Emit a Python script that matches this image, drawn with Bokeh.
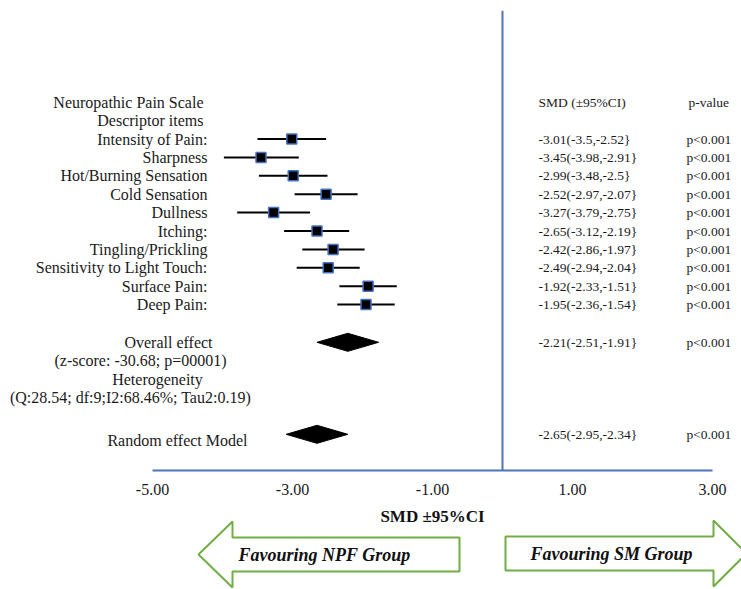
from bokeh.plotting import figure
from bokeh.layouts import column
from bokeh.models import Range1d, Span, FixedTicker, PrintfTickFormatter
from bokeh.core.properties import value
from bokeh.embed import file_html
from bokeh.resources import INLINE

# ---- data ----
items = ["Intensity of Pain:", "Sharpness", "Hot/Burning Sensation", "Cold Sensation",
         "Dullness", "Itching:", "Tingling/Prickling", "Sensitivity to Light Touch:",
         "Surface Pain:", "Deep Pain:"]
smd = [-3.01, -3.45, -2.99, -2.52, -3.27, -2.65, -2.42, -2.49, -1.92, -1.95]
lower = [-3.5, -3.98, -3.48, -2.97, -3.79, -3.12, -2.86, -2.94, -2.33, -2.36]
upper = [-2.52, -2.91, -2.5, -2.07, -2.75, -2.19, -1.97, -2.04, -1.51, -1.54]
p_values = ["p<0.001"] * 10

overall_smd, overall_lo, overall_hi, overall_p = -2.21, -2.51, -1.91, "p<0.001"
random_smd, random_lo, random_hi, random_p = -2.65, -2.95, -2.34, "p<0.001"

tick_values = [-5, -3, -1, 1, 3]
x_title = "SMD \u00b195%CI"

# ---- layout / style ----
W, H = 741, 589
FONT = "Liberation Serif"
FS_LEFT = "16px"
FS_RIGHT = "13.5px"
TXT = "#1a1a1a"
BLUE = "#4f75b8"
GREEN = "#70ad47"
PX_PER_UNIT = 70.0
ZERO_X = 502.0
ROW0_Y, ROW_H = 138.5, 18.4
TOP, BOTTOM = 10, 470
SPLIT = 505  # canvas row where the lower (arrow) panel starts


def row_of(sy):
    return (sy - ROW0_Y) / ROW_H


def x_of(sx):
    return (sx - ZERO_X) / PX_PER_UNIT


xr = Range1d(x_of(0), x_of(W))

p = figure(width=W, height=SPLIT, output_backend="svg", toolbar_location=None,
           x_range=xr, y_range=Range1d(row_of(BOTTOM), row_of(TOP)),
           y_axis_location=None, x_axis_location="below",
           min_border_left=0, min_border_right=0, min_border_top=TOP,
           min_border_bottom=SPLIT - BOTTOM)
p.outline_line_color = None
p.xgrid.visible = False
p.ygrid.visible = False
p.background_fill_color = "white"
p.border_fill_color = "white"

ax = p.xaxis[0]
ax.ticker = FixedTicker(ticks=tick_values)
ax.formatter = PrintfTickFormatter(format="%.2f")
ax.bounds = (tick_values[0], tick_values[-1])
ax.axis_line_color = BLUE
ax.axis_line_width = 2
ax.major_tick_line_color = None
ax.minor_tick_line_color = None
ax.major_tick_out = 0
ax.major_tick_in = 0
ax.major_label_standoff = 13
ax.major_label_text_font = FONT
ax.major_label_text_font_size = "16px"
ax.major_label_text_color = TXT

p.add_layout(Span(location=0, dimension="height", line_color=BLUE, line_width=2))

rows = list(range(len(items)))

# CI lines and point estimates
p.segment(x0=lower, y0=rows, x1=upper, y1=rows, line_color="black", line_width=2)
p.scatter(x=smd, y=rows, marker="square", size=10, fill_color="black",
          line_color="#4472c4", line_width=1.5)

# Diamonds
DIAMOND_HALF_W = 0.44
DIAMOND_HALF_H = 0.49
for est, r in [(overall_smd, 11.05), (random_smd, 16.05)]:
    p.patch(x=[est - DIAMOND_HALF_W, est, est + DIAMOND_HALF_W, est],
            y=[r, r - DIAMOND_HALF_H, r, r + DIAMOND_HALF_H],
            fill_color="black", line_color="black")


def txt(fig, x, y, t, align="left", style="normal", size=FS_LEFT, color=TXT):
    fig.text(x=x, y=y, text=t, text_align=align, text_baseline="middle",
             text_font=value(FONT), text_font_size=size, text_color=color,
             text_font_style=style)


# Left labels
LABEL_X = x_of(207)
txt(p, [x_of(203)], [-2], ["Neuropathic Pain Scale"], align="right")
txt(p, [LABEL_X], [-1], ["Descriptor  items"], align="right")
txt(p, [LABEL_X] * len(items), rows, items, align="right")

txt(p, [x_of(168)], [11.05], ["Overall effect"], align="center")
txt(p, [x_of(140)], [12.05], ["(z-score: -30.68; p=00001)"], align="center")
txt(p, [x_of(157)], [13.05], ["Heterogeneity"], align="center")
txt(p, [x_of(130)], [14.05], ["(Q:28.54; df:9;I2:68.46%; Tau2:0.19)"], align="center")
txt(p, [x_of(177)], [16.4], ["Random effect Model"], align="center")

# Right columns
SMD_X = x_of(538)
P_X = x_of(686)
ci_text = [f"{s}({lo},{hi}}}" for s, lo, hi in zip(smd, lower, upper)]
txt(p, [SMD_X], [-2], ["SMD (\u00b195%CI)"], size=FS_RIGHT)
txt(p, [x_of(688)], [-2], ["p-value"], size=FS_RIGHT)
txt(p, [SMD_X] * len(items), rows, ci_text, size=FS_RIGHT)
txt(p, [P_X] * len(items), rows, p_values, size=FS_RIGHT)
txt(p, [SMD_X], [11.05], [f"{overall_smd}({overall_lo},{overall_hi}}}"], size=FS_RIGHT)
txt(p, [P_X], [11.05], [overall_p], size=FS_RIGHT)
txt(p, [SMD_X], [16.05], [f"{random_smd}({random_lo},{random_hi}}}"], size=FS_RIGHT)
txt(p, [P_X], [16.05], [random_p], size=FS_RIGHT)

# ---- lower panel: axis title and direction arrows ----
q = figure(width=W, height=H - SPLIT, output_backend="svg", toolbar_location=None,
           x_range=xr, y_range=Range1d(row_of(H), row_of(SPLIT)),
           x_axis_location=None, y_axis_location=None,
           min_border_left=0, min_border_right=0, min_border_top=0, min_border_bottom=0)
q.outline_line_color = None
q.xgrid.visible = False
q.ygrid.visible = False
q.background_fill_color = "white"
q.border_fill_color = "white"

txt(q, [(tick_values[0] + tick_values[-1]) / 2], [row_of(516)], [x_title],
    align="center", style="bold", size="17px", color="#111111")


def arrow(tip_sx, head_sx, end_sx, cy, body_h, head_h, text, text_sx):
    xs = [x_of(tip_sx), x_of(head_sx), x_of(head_sx), x_of(end_sx), x_of(end_sx),
          x_of(head_sx), x_of(head_sx)]
    ys = [row_of(cy), row_of(cy - head_h), row_of(cy - body_h), row_of(cy - body_h),
          row_of(cy + body_h), row_of(cy + body_h), row_of(cy + head_h)]
    q.patch(x=xs, y=ys, fill_color="white", line_color=GREEN, line_width=2)
    txt(q, [x_of(text_sx)], [row_of(cy)], [text], align="center",
        style="bold italic", size="18px", color="#111111")


arrow(198, 232, 459, 554, 17, 33, "Favouring NPF Group", 324)
arrow(746, 713, 505, 553, 17, 33, "Favouring SM Group", 611)

layout = column(p, q, spacing=0)
open("out.html", "w").write(file_html(layout, INLINE))
